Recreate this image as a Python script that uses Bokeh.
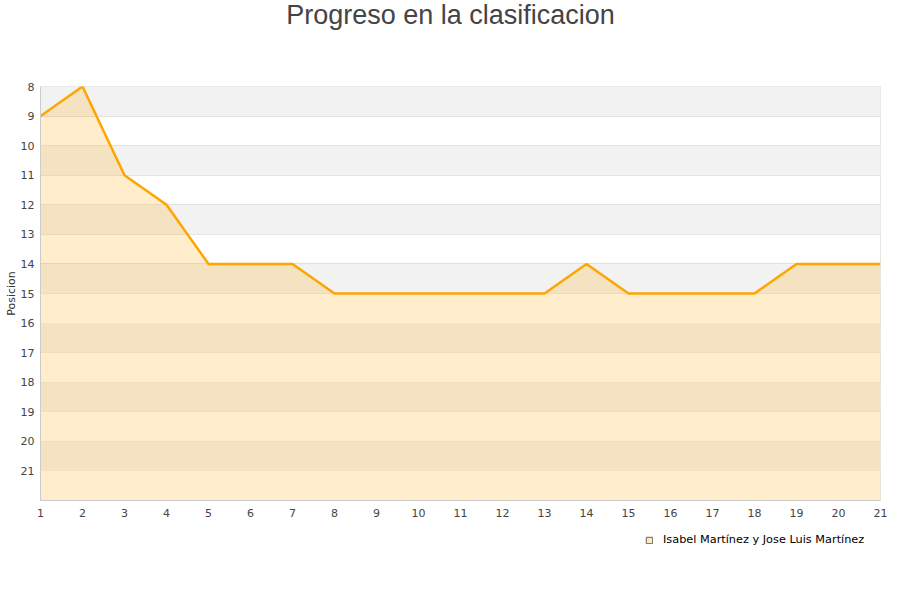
from bokeh.plotting import figure
from bokeh.layouts import column
from bokeh.models import Range1d, FixedTicker, Legend, LegendItem, ColumnDataSource, Label
from bokeh.embed import file_html
from bokeh.resources import INLINE

jornadas = list(range(1, 22))
posicion = [9, 8, 11, 12, 14, 14, 14, 15, 15, 15, 15, 15, 15, 14, 15, 15, 15, 15, 14, 14, 14]
y_ticks = list(range(8, 22))
series_name = "Isabel Martínez y Jose Luis Martínez"
title_text = "Progreso en la clasificacion"
y_label = "Posicion"

y_min, y_max = 8, 22
W = 900
FL, FR = 40, 880   # frame edges in page pixels (shared by the stacked figures)


def blank_fig(h):
    f = figure(width=W, height=h, output_backend="svg", toolbar_location=None,
               x_range=Range1d(FL, FR), y_range=Range1d(h, 0),
               min_border=0, min_border_left=FL, min_border_right=W - FR)
    f.axis.visible = False
    f.grid.visible = False
    f.outline_line_color = None
    return f


# --- title strip
head = blank_fig(40)
head.add_layout(Label(x=W / 2, y=14, text=title_text, text_align="center",
                      text_baseline="middle", text_font="Liberation Sans",
                      text_font_size="27px", text_color="#444444"))

# --- main chart
p = figure(width=W, height=490, output_backend="svg", toolbar_location=None,
           x_range=Range1d(1, 21), y_range=Range1d(y_max, y_min),
           min_border_left=FL, min_border_right=W - FR, min_border_top=46, min_border_bottom=30)

p.background_fill_color = "white"
p.outline_line_color = "#e6e6e6"

band_lo = [v for v in range(y_min, y_max, 2)]
p.quad(left=1, right=21, bottom=[v + 1 for v in band_lo], top=band_lo,
       fill_color="#f2f2f2", line_color=None)

p.xgrid.visible = False
p.ygrid.ticker = FixedTicker(ticks=list(range(y_min, y_max + 1)))
p.ygrid.grid_line_color = "#e0e0e0"
p.ygrid.level = "underlay"

src = ColumnDataSource(dict(x=jornadas, y=posicion, base=[y_max] * len(jornadas)))
p.varea(x="x", y1="y", y2="base", source=src, fill_color="#ffa500", fill_alpha=0.2)
p.line(x="x", y="y", source=src, line_color="#ffa500", line_width=2.5)

p.yaxis.ticker = FixedTicker(ticks=y_ticks)
p.xaxis.ticker = FixedTicker(ticks=jornadas)
for ax in (p.xaxis, p.yaxis):
    ax.axis_line_color = "#cccccc"
    ax.major_tick_line_color = None
    ax.minor_tick_line_color = None
    ax.major_tick_out = 0
    ax.major_tick_in = 0
    ax.minor_tick_out = 0
    ax.minor_tick_in = 0
    ax.major_label_text_font = "DejaVu Sans"
    ax.major_label_text_font_size = "11px"
    ax.major_label_text_color = "#444444"
p.yaxis.major_label_standoff = 6
p.xaxis.major_label_standoff = 8
p.yaxis.axis_label = y_label
p.yaxis.axis_label_text_font = "DejaVu Sans"
p.yaxis.axis_label_text_font_size = "11px"
p.yaxis.axis_label_text_font_style = "normal"
p.yaxis.axis_label_text_color = "#333333"
p.yaxis.axis_label_standoff = 0

# --- legend strip
foot = blank_fig(70)
nan = float("nan")
leg_src = ColumnDataSource(dict(l=[nan], r=[nan], t=[nan], b=[nan]))
leg_r = foot.quad(left="l", right="r", top="t", bottom="b", source=leg_src,
                  fill_color="#ffa500", fill_alpha=0.25, line_color="#666666", line_width=1)
legend = Legend(items=[LegendItem(label=series_name, renderers=[leg_r])],
                location=(645 - FL, 70 - 3 - 13), orientation="horizontal",
                glyph_width=8, glyph_height=8, label_text_font="DejaVu Sans",
                label_text_font_size="11.3px", label_text_color="#000000",
                background_fill_alpha=0, border_line_color=None, padding=0,
                label_standoff=10, margin=0)
foot.add_layout(legend, "center")

page = column(head, p, foot, spacing=0)
open("out.html", "w").write(file_html(page, INLINE))
